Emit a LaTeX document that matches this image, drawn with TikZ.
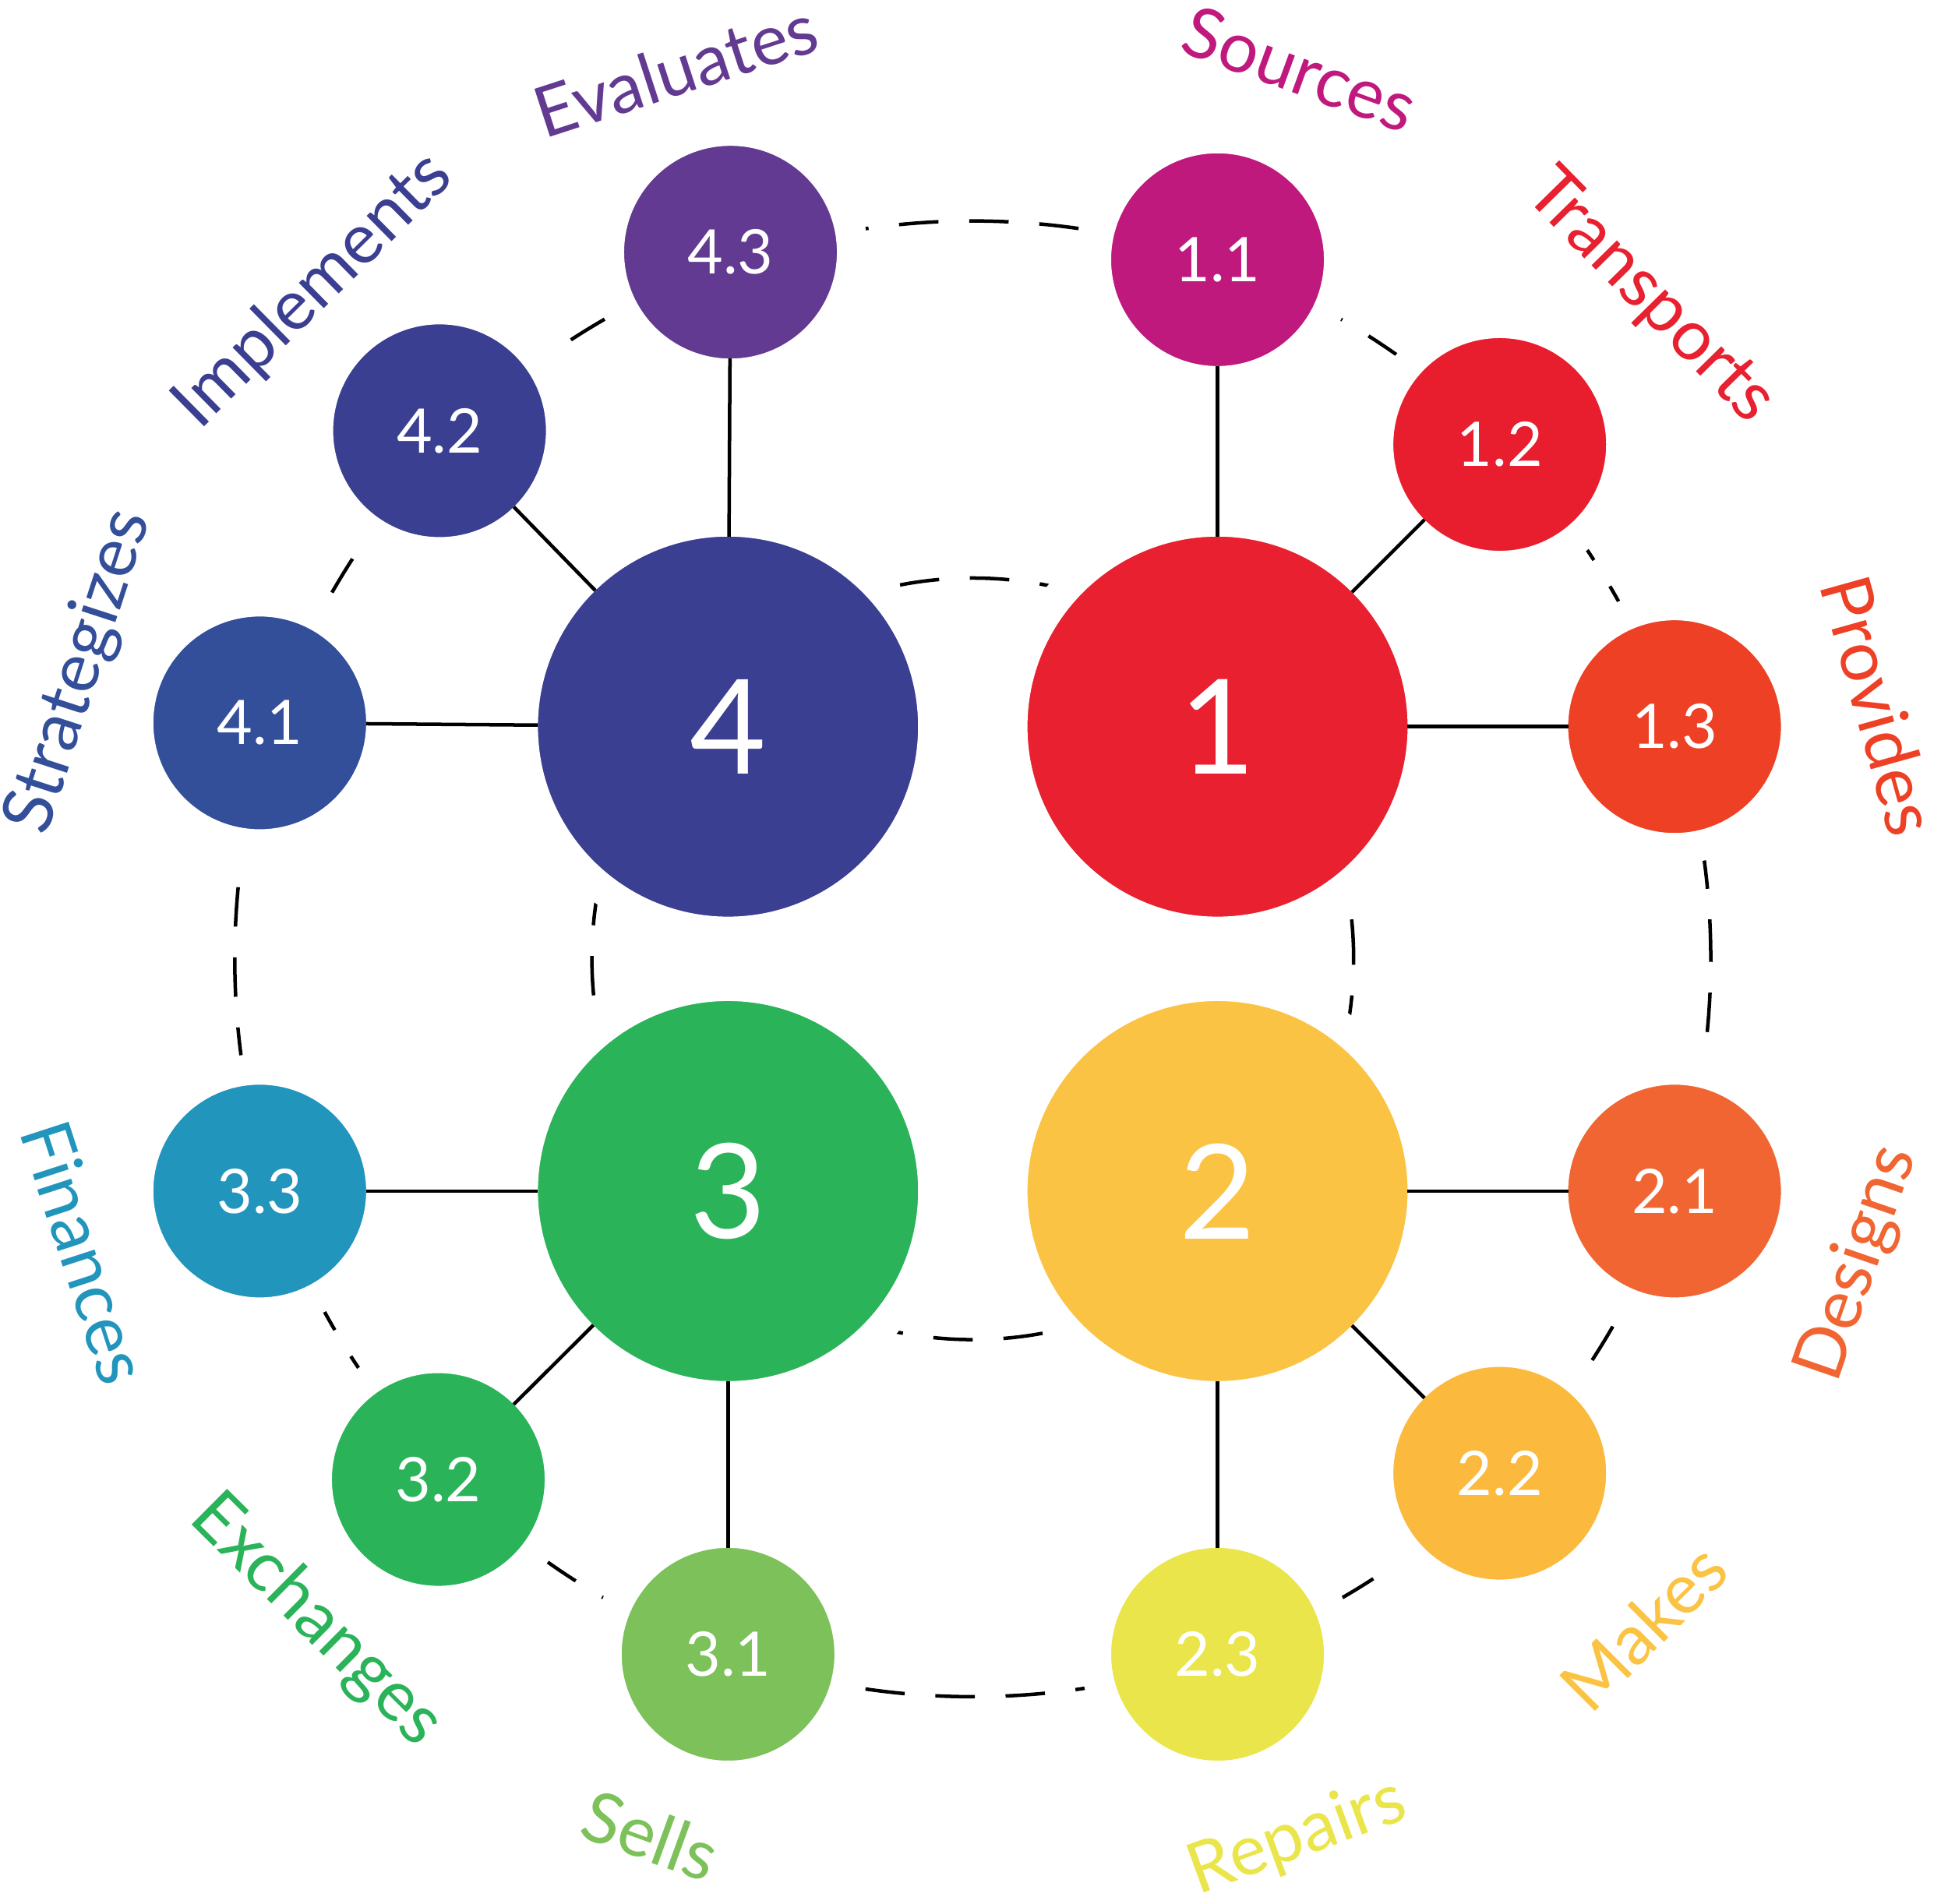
\documentclass[tikz,border=0pt]{standalone}
\usepackage{fontspec}
\setmainfont{Lato}
\usetikzlibrary{positioning}
\definecolor{cA}{HTML}{E8202F}
\definecolor{cAa}{HTML}{C0197E}
\definecolor{cAb}{HTML}{E81E2F}
\definecolor{cAc}{HTML}{EE4024}
\definecolor{cB}{HTML}{FBC344}
\definecolor{cBa}{HTML}{F16532}
\definecolor{cBb}{HTML}{FBBA3E}
\definecolor{cBc}{HTML}{EAE54A}
\definecolor{cC}{HTML}{2BB35A}
\definecolor{cCa}{HTML}{7CC15A}
\definecolor{cCb}{HTML}{2BB35A}
\definecolor{cCc}{HTML}{2295BD}
\definecolor{cD}{HTML}{3B3F91}
\definecolor{cDa}{HTML}{334F9A}
\definecolor{cDb}{HTML}{3B3F91}
\definecolor{cDc}{HTML}{633A91}
\tikzset{
  hub/.style={circle, draw=white, line width=7pt, outer sep=-3.5pt, minimum size=3.29cm, inner sep=0pt, text=white, font=\fontsize{30}{30}\selectfont},
  sub/.style={circle, draw=white, line width=7pt, outer sep=-3.5pt, minimum size=1.95cm, inner sep=0pt, text=white, font=\fontsize{14}{14}\selectfont},
  ring/.style={dashed, dash pattern=on 9pt off 7pt, line width=0.8pt},
  spoke/.style={line width=0.8pt},
  verb/.style={font=\fontsize{16}{16}\selectfont, inner sep=0pt}
}
\begin{document}
\begin{tikzpicture}
  \useasboundingbox (0,0) rectangle (15.6,-15.25);
  \coordinate (mid) at (7.79,-7.68);
  % dashed rings
  \draw[ring] (mid) circle (5.91cm);
  \draw[ring] (mid) circle (3.05cm);
  % hubs
  \node[hub, fill=cA] (one) at (9.75,-5.82) {1};
  \node[hub, fill=cB] (two) at (9.75,-9.54) {2};
  \node[hub, fill=cC] (three) at (5.83,-9.54) {3};
  \node[hub, fill=cD] (four) at (5.83,-5.82) {4};
  % satellites
  \node[sub, fill=cAa] (s11) at (9.75,-2.08) {1.1};
  \node[sub, fill=cAb] (s12) at (12.01,-3.56) {1.2};
  \node[sub, fill=cAc] (s13) at (13.41,-5.82) {1.3};
  \node[sub, fill=cBa] (s21) at (13.41,-9.54) {2.1};
  \node[sub, fill=cBb] (s22) at (12.01,-11.80) {2.2};
  \node[sub, fill=cBc] (s23) at (9.75,-13.25) {2.3};
  \node[sub, fill=cCa] (s31) at (5.83,-13.25) {3.1};
  \node[sub, fill=cCb] (s32) at (3.51,-11.85) {3.2};
  \node[sub, fill=cCc] (s33) at (2.08,-9.54) {3.3};
  \node[sub, fill=cDa] (s41) at (2.08,-5.79) {4.1};
  \node[sub, fill=cDb] (s42) at (3.52,-3.45) {4.2};
  \node[sub, fill=cDc] (s43) at (5.85,-2.02) {4.3};
  % spokes
  \foreach \h/\s in {one/s11, one/s12, one/s13, two/s21, two/s22, two/s23,
                     three/s31, three/s32, three/s33, four/s41, four/s42, four/s43}
    \draw[spoke] (\h) -- (\s);
  % verbs
  \node[verb, text=cAa, rotate=-20] (vsrc) at (10.41,-0.55) {Sources};
  \node[verb, text=cA, rotate=-45.5] (vtra) at (13.21,-2.38) {Transports};
  \node[verb, text=cAc, rotate=-74.4] (vpro) at (15.05,-5.65) {Provides};
  \node[verb, text=cBa, rotate=71] (vdes) at (14.88,-10.12) {Designs};
  \node[verb, text=cB, rotate=45] (vmak) at (13.16,-13.03) {Makes};
  \node[verb, text=cBc, rotate=20] (vrep) at (10.39,-14.72) {Repairs};
  \node[verb, text=cCa, rotate=-20] (vsel) at (5.21,-14.70) {Sells};
  \node[verb, text=cC, rotate=-44.8] (vexc) at (2.53,-12.98) {Exchanges};
  \node[verb, text=cCc, rotate=-72] (vfin) at (0.68,-10.03) {Finances};
  \node[verb, text=cDa, rotate=72] (vstr) at (0.64,-5.38) {Strategizes};
  \node[verb, text=cD, rotate=44.6] (vimp) at (2.51,-2.33) {Implements};
  \node[verb, text=cDc, rotate=18] (veva) at (5.41,-0.56) {Evaluates};
\end{tikzpicture}
\end{document}
